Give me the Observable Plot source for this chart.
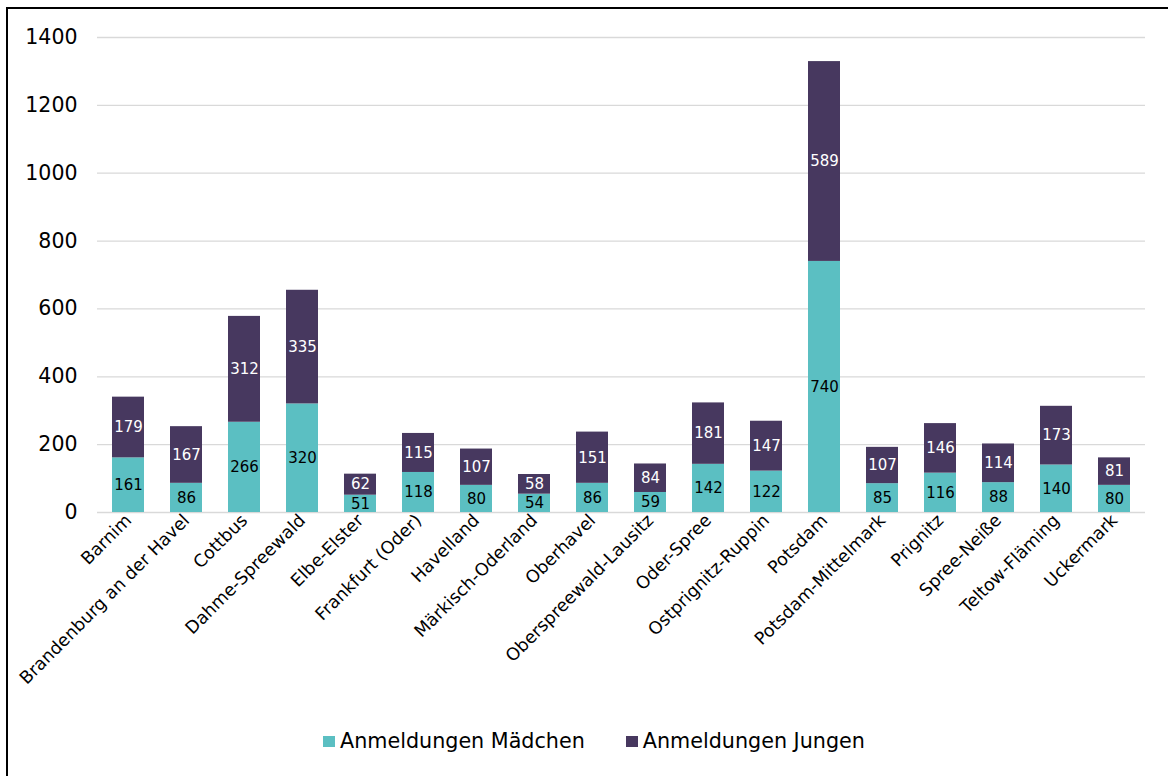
<!DOCTYPE html>
<html>
<head>
<meta charset="utf-8">
<script src="https://cdn.jsdelivr.net/npm/d3@7"></script>
<script src="https://cdn.jsdelivr.net/npm/@observablehq/plot@0.6"></script>
<style>
  html, body { margin: 0; padding: 0; background: #fff; }
  body { width: 1168px; height: 776px; position: relative; overflow: hidden; font-family: "DejaVu Sans", sans-serif; }
  #frame { position: absolute; left: 6px; top: 7px; right: 0; bottom: 0; border-left: 2px solid #000; border-top: 2px solid #000; }
  #chart { position: absolute; left: 0; top: 0; }
  #legend { position: absolute; top: 729px; left: 323px; display: flex; align-items: center; font-size: 20.7px; color: #000; }
  #legend .item { display: flex; align-items: center; }
  #legend .sw { width: 12px; height: 11px; margin-right: 5px; }
</style>
</head>
<body>
<div id="frame"></div>
<div id="chart"></div>
<div id="legend"></div>
<script>
const regions = ["Barnim", "Brandenburg an der Havel", "Cottbus", "Dahme-Spreewald", "Elbe-Elster", "Frankfurt (Oder)", "Havelland", "Märkisch-Oderland", "Oberhavel", "Oberspreewald-Lausitz", "Oder-Spree", "Ostprignitz-Ruppin", "Potsdam", "Potsdam-Mittelmark", "Prignitz", "Spree-Neiße", "Teltow-Fläming", "Uckermark"];
const girls = [161, 86, 266, 320, 51, 118, 80, 54, 86, 59, 142, 122, 740, 85, 116, 88, 140, 80];
const boys  = [179, 167, 312, 335, 62, 115, 107, 58, 151, 84, 181, 147, 589, 107, 146, 114, 173, 81];
const seriesNames = ["Anmeldungen Mädchen", "Anmeldungen Jungen"];
const seriesColors = ["#5bbfc2", "#47385f"];
const yTicks = [0, 200, 400, 600, 800, 1000, 1200, 1400];

const data = [];
regions.forEach((r, i) => {
  data.push({region: r, series: seriesNames[0], value: girls[i]});
  data.push({region: r, series: seriesNames[1], value: boys[i]});
});

const stackOpts = {x: "region", y: "value", z: "series", order: seriesNames};

const chart = Plot.plot({
  width: 1168,
  height: 700,
  marginLeft: 97,
  marginRight: 23,
  marginTop: 37,
  marginBottom: 188,
  style: {fontFamily: "DejaVu Sans, sans-serif", background: "transparent", overflow: "visible"},
  x: {domain: regions, paddingInner: 0.45, paddingOuter: 0.19, label: null},
  y: {domain: [0, 1400], label: null},
  color: {domain: seriesNames, range: seriesColors},
  marks: [
    Plot.ruleY(yTicks, {stroke: "#d9d9d9", strokeWidth: 1.3}),
    Plot.barY(data, Plot.stackY({...stackOpts, fill: "series"})),
    Plot.text(data, Plot.stackY({...stackOpts, text: d => d.series === seriesNames[0] ? d.value : null, fill: "#000", fontSize: 15})),
    Plot.text(data, Plot.stackY({...stackOpts, text: d => d.series === seriesNames[1] ? d.value : null, fill: "#fff", fontSize: 15})),
    Plot.axisY({ticks: yTicks, tickSize: 0, tickPadding: 20, fontSize: 20.5, tickFormat: d => String(d), label: null}),
    Plot.axisX({tickSize: 0, tickPadding: 5, tickRotate: -45, fontSize: 17.5, label: null})
  ]
});
document.getElementById("chart").appendChild(chart);

const legend = document.getElementById("legend");
seriesNames.forEach((name, i) => {
  const item = document.createElement("div");
  item.className = "item";
  if (i > 0) item.style.marginLeft = "41px";
  const sw = document.createElement("div");
  sw.className = "sw";
  sw.style.background = seriesColors[i];
  const t = document.createElement("span");
  t.textContent = name;
  item.appendChild(sw);
  item.appendChild(t);
  legend.appendChild(item);
});
</script>
</body>
</html>
